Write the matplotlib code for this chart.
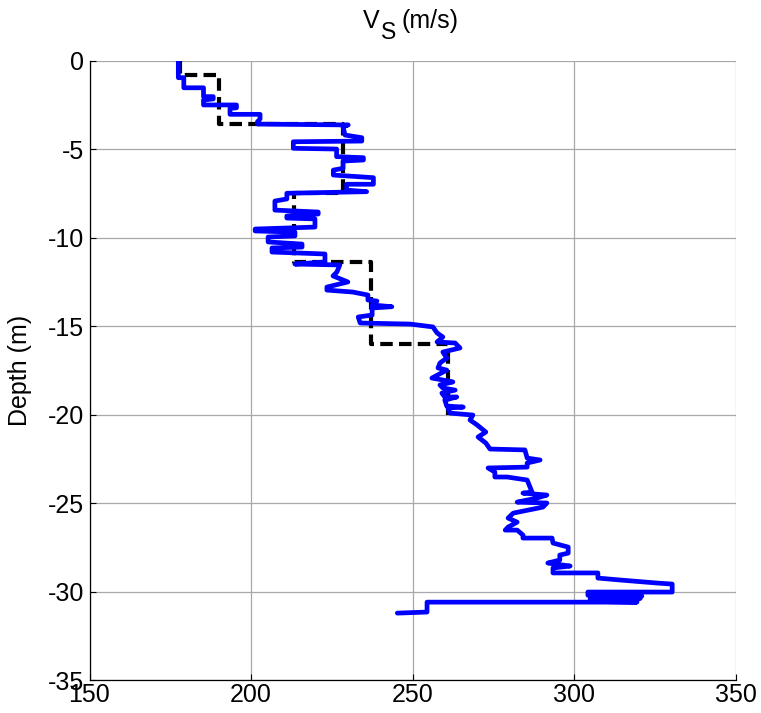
import matplotlib
matplotlib.use('Agg')
import matplotlib.pyplot as plt

plt.rcParams['font.family'] = ['Liberation Sans', 'DejaVu Sans']
plt.rcParams['axes.unicode_minus'] = False

# layered model (dashed black): vs per layer, layer boundaries in depth
layer_vs = [178, 190, 228.5, 213.3, 237, 261]
layer_depth = [0, -0.8, -3.6, -7.5, -11.4, -16.0, -20.0]

# measured profile (blue)
vs_scpt = [177.5, 177.5, 179.2, 179.2, 185.3, 185.3, 188.3, 188.3, 185.3, 185.3,
           195.5, 195.5, 193.5, 193.5, 202.8, 202.8, 202.0, 202.0, 230.1, 228.5,
           229.1, 234.3, 234.3, 213.1, 213.1, 226.5, 226.5, 234.8, 234.8, 228.5,
           228.5, 225.5, 225.5, 237.9, 237.9, 229.6, 229.6, 235.8, 211.1, 211.1,
           207.4, 207.4, 220.8, 220.8, 211.1, 211.1, 219.8, 219.8, 201.3, 201.3,
           213.6, 213.6, 205.3, 205.3, 215.8, 215.8, 206.5, 206.5, 222.9, 222.9,
           213.6, 227.5, 226.6, 225.4, 230.0, 223.5, 223.5, 231.5, 236.2, 236.2,
           239.0, 237.5, 243.6, 237.5, 237.5, 233.2, 233.8, 249.3, 256.3, 257.6,
           259.4, 257.6, 263.2, 264.7, 259.4, 260.6, 258.5, 257.9, 260.6, 256.0,
           259.4, 262.5, 258.5, 259.4, 263.2, 259.1, 260.0, 263.7, 260.0, 260.6,
           265.7, 261.0, 261.6, 268.7, 267.8, 270.0, 272.7, 270.3, 272.7, 274.0,
           284.8, 285.5, 289.5, 285.5, 285.5, 273.4, 275.5, 275.5, 279.3, 285.5,
           286.4, 287.0, 284.2, 291.6, 288.5, 282.4, 291.6, 290.4, 281.2, 279.6,
           282.4, 279.6, 278.7, 282.4, 284.2, 284.2, 293.2, 293.5, 298.2, 298.2,
           295.6, 295.6, 291.9, 298.8, 293.5, 293.5, 307.4, 307.4, 314.3, 325.7,
           330.4, 330.4, 304.3, 304.3, 321.0, 305.0, 320.5, 305.0, 319.5, 305.9,
           319.5, 254.5, 254.5, 245.3]
depth_scpt = [0.0, -0.96, -0.96, -1.53, -1.53, -2.03, -2.03, -2.16, -2.22, -2.50,
              -2.50, -2.66, -2.69, -3.03, -3.03, -3.29, -3.45, -3.58, -3.63, -3.73,
              -4.20, -4.35, -4.54, -4.58, -4.95, -4.99, -5.42, -5.48, -5.61, -5.67,
              -6.08, -6.18, -6.46, -6.61, -6.98, -6.98, -7.31, -7.40, -7.49, -7.81,
              -7.93, -8.44, -8.55, -8.66, -8.77, -8.89, -8.94, -9.40, -9.51, -9.62,
              -9.68, -9.90, -9.96, -10.24, -10.36, -10.53, -10.58, -10.81, -10.92, -11.37,
              -11.49, -11.54, -11.94, -12.16, -12.50, -12.79, -12.96, -13.07, -13.24, -13.52,
              -13.58, -13.80, -13.90, -13.97, -14.37, -14.48, -14.82, -14.88, -15.04, -15.38,
              -15.61, -15.89, -15.95, -16.23, -16.46, -16.80, -17.08, -17.36, -17.48, -17.93,
              -18.04, -18.15, -18.32, -18.49, -18.61, -18.78, -19.00, -19.00, -19.17, -19.51,
              -19.57, -19.62, -19.91, -20.02, -20.30, -20.58, -20.98, -21.26, -21.60, -21.94,
              -21.99, -22.45, -22.56, -22.73, -22.96, -23.01, -23.24, -23.52, -23.52, -23.69,
              -24.09, -24.37, -24.43, -24.54, -24.71, -24.94, -24.99, -25.22, -25.56, -25.84,
              -26.07, -26.35, -26.52, -26.52, -26.80, -26.97, -26.97, -27.25, -27.48, -27.82,
              -27.93, -28.21, -28.38, -28.55, -28.66, -28.94, -28.94, -29.23, -29.34, -29.51,
              -29.57, -30.02, -30.02, -30.20, -30.25, -30.32, -30.38, -30.45, -30.52, -30.55,
              -30.59, -30.59, -31.15, -31.21]

x_ticks = [150, 200, 250, 300, 350]
y_ticks = [0, -5, -10, -15, -20, -25, -30, -35]

W, H = 761, 713
fig = plt.figure(figsize=(W / 100, H / 100), dpi=100)
ax = fig.add_axes([89.5 / W, 1 - 680.2 / H, 646 / W, 619.5 / H])

# step line for the layered model
lx, ly = [], []
for i, v in enumerate(layer_vs):
    lx += [v, v]
    ly += [layer_depth[i], layer_depth[i + 1]]
ax.plot(lx, ly, color='black', lw=3.0, linestyle=(0, (3.0, 1.5)), zorder=2)
ax.plot(vs_scpt, depth_scpt, color='#0000ff', lw=3.4, zorder=3,
        solid_joinstyle='round', solid_capstyle='round')

ax.set_xlim(150, 350)
ax.set_ylim(-35, 0)
ax.set_xticks(x_ticks)
ax.set_yticks(y_ticks)
ax.grid(True, color='#a8a8a8', lw=0.9)
ax.set_axisbelow(True)
for s in ['top', 'right']:
    ax.spines[s].set_visible(False)
for s in ['left', 'bottom']:
    ax.spines[s].set_linewidth(0.9)
ax.tick_params(direction='in', length=4.5, width=0.8, labelsize=18)
ax.tick_params(axis='x', pad=2)
ax.tick_params(axis='y', pad=4)

ax.set_ylabel('Depth (m)', fontsize=18)
ax.yaxis.set_label_coords(-0.089, 0.5)

# title "V_S (m/s)" with a near full-size subscript
fig.text(362.7 / W, 1 - 28.3 / H, 'V', fontsize=18, ha='left', va='baseline')
fig.text(381.0 / W, 1 - 39.0 / H, 'S', fontsize=16.5, ha='left', va='baseline')
fig.text(401.7 / W, 1 - 28.3 / H, '(m/s)', fontsize=18, ha='left', va='baseline')

fig.savefig('out.png', dpi=100, facecolor='white')
